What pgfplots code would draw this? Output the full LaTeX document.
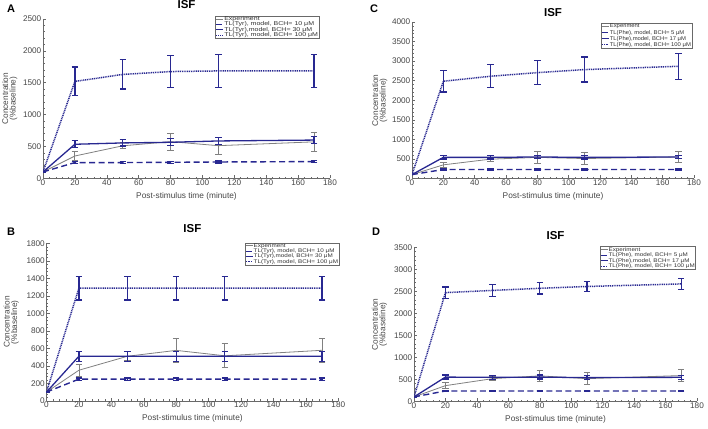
\documentclass[border=0pt]{standalone}
\usepackage{fontspec}
\setmainfont{Liberation Sans}
\usepackage{graphicx}
\usepackage{pgfplots}
\pgfplotsset{compat=1.18}

\definecolor{navy}{RGB}{40,40,145}
\definecolor{expg}{RGB}{128,128,128}
\definecolor{axg}{RGB}{105,105,105}
\definecolor{txg}{RGB}{70,70,70}

\newcommand\ls[2]{\scalebox{#1}[1]{#2}}

\pgfplotsset{
  isf/.style={
    scale only axis, anchor=south west,
    xmin=0, xmax=180, ymin=0, xtick={0,20,...,180},
    axis x line*=bottom, axis y line*=left,
    axis line style={axg, line width=0.5pt, -},
    tick align=inside, major tick length=3pt, minor tick length=1.5pt,
    minor x tick num=4, minor y tick num=4,
    every tick/.style={axg, line width=0.5pt},
    tick label style={font=\fontsize{8.2}{9}\selectfont, text=txg},
    /pgf/number format/assume math mode=true,
    /pgf/number format/1000 sep={},
    xticklabel style={inner sep=1pt},
    yticklabel style={inner sep=1.5pt},
    xlabel={Post-stimulus time (minute)},
    ylabel={Concentration\\(\%baseline)},
    label style={font=\fontsize{8.3}{7.5}\selectfont, text=txg},
    xlabel style={at={(axis description cs:0.5,0)}, anchor=north, yshift=-13.5pt, inner sep=0pt},
    ylabel style={align=center, anchor=south, inner sep=0pt},
    title={ISF},
    title style={font=\bfseries\fontsize{11.5}{12}\selectfont, at={(axis description cs:0.5,1)}, anchor=south, inner sep=0pt},
    legend cell align=left,
    legend image code/.code={\draw[#1, line width=0.8pt] (0pt,0pt) -- (7pt,0pt);},
    legend style={draw=axg, line width=0.4pt, fill=white, inner sep=0.4pt, row sep=0pt,
      anchor=north east, nodes={inner xsep=0.5pt, inner ysep=0pt, text=black!80}},
  },
  ebar/.style={error bars/y dir=both, error bars/y explicit,
    error bars/error bar style={#1, solid},
    error bars/error mark options={rotate=90, mark size=3.2pt, #1, solid}},
  pexp/.style={expg, line width=0.8pt, mark=none, ebar={expg, line width=0.8pt}},
  plo/.style={navy, line width=1.4pt, mark=none, dash pattern=on 6pt off 3.5pt, ebar={navy, line width=1.3pt}},
  pmid/.style={navy, line width=1.3pt, mark=none, ebar={navy, line width=1.3pt}},
  phi/.style={navy, line width=1.5pt, mark=none, dash pattern=on 1pt off 0.8pt, ebar={navy, line width=1.3pt}},
}

\begin{document}
\begin{tikzpicture}
\path[use as bounding box] (0pt,0pt) rectangle (708pt,428pt);

% ---------- A ----------
\begin{axis}[isf, at={(43pt,249.7pt)}, width=287pt, height=159.3pt,
  ymax=2500, ytick={0,500,...,2500},
  ylabel style={at={(axis description cs:-0.089,0.5)}},
  title style={yshift=4pt},
  legend style={at={(0.962,1.019)}, font=\fontsize{5.6}{6}\selectfont,
    nodes={text height=4pt, text depth=1.3pt}}]
\addplot[pexp] table[x=t, y=v, y error=e] {
t v e
0 100 0
20 350 70
50 510 48
80 575 135
110 512 132
170 572 145
};
\addlegendentry{\ls{1.25}{Experiment}}
\addplot[plo] table[x=t, y=v, y error=e] {
t v e
0 100 0
20 247 15
50 247 15
80 251 15
110 256 15
170 262 15
};
\addlegendentry{\ls{1.25}{TL(Tyr), model, BCH= 10 μM}}
\addplot[pmid] table[x=t, y=v, y error=e] {
t v e
0 100 0
20 534 55
50 555 50
80 565 55
110 586 55
170 600 58
};
\addlegendentry{\ls{1.25}{TL(Tyr),model, BCH= 30 μM}}
\addplot[phi] table[x=t, y=v, y error=e] {
t v e
0 100 0
20 1520 225
50 1630 230
80 1675 252
110 1685 255
170 1685 255
};
\addlegendentry{\ls{1.25}{TL(Tyr), model, BCH= 100 μM}}
\end{axis}

% ---------- C ----------
\begin{axis}[isf, at={(412pt,249.5pt)}, width=282pt, height=156.5pt,
  ymax=4000, ytick={0,500,...,4000},
  ylabel style={at={(axis description cs:-0.087,0.5)}},
  title style={yshift=-1pt},
  legend style={at={(0.993,0.994)}, font=\fontsize{5.5}{6}\selectfont,
    nodes={text height=4.4pt, text depth=1.7pt}}]
\addplot[pexp] table[x=t, y=v, y error=e] {
t v e
0 100 0
20 349 68
50 494 45
80 540 158
110 510 145
170 550 150
};
\addlegendentry{\ls{1.07}{Experiment}}
\addplot[plo] table[x=t, y=v, y error=e] {
t v e
0 100 0
20 230 10
50 230 10
80 230 10
110 230 10
170 230 10
};
\addlegendentry{\ls{1.07}{TL(Phe), model, BCH= 5 μM}}
\addplot[pmid] table[x=t, y=v, y error=e] {
t v e
0 100 0
20 540 42
50 540 42
80 550 45
110 540 42
170 550 45
};
\addlegendentry{\ls{1.07}{TL(Phe),model, BCH= 17 μM}}
\addplot[phi] table[x=t, y=v, y error=e] {
t v e
0 100 0
20 2485 275
50 2613 295
80 2706 305
110 2783 320
170 2868 330
};
\addlegendentry{\ls{1.07}{TL(Phe), model, BCH= 100 μM}}
\end{axis}

% ---------- B ----------
\begin{axis}[isf, at={(46.5pt,27.2pt)}, width=291.8pt, height=157.3pt,
  ymax=1800, ytick={0,200,...,1800},
  ylabel style={at={(axis description cs:-0.094,0.5)}},
  title style={yshift=4.5pt},
  legend style={at={(1.003,1.006)}, font=\fontsize{5.3}{6}\selectfont,
    nodes={text height=4pt, text depth=1.3pt}}]
\addplot[pexp] table[x=t, y=v, y error=e] {
t v e
0 100 0
20 350 72
50 510 50
80 577 132
110 515 138
170 578 140
};
\addlegendentry{\ls{1.19}{Experiment}}
\addplot[plo] table[x=t, y=v, y error=e] {
t v e
0 100 0
20 248 14
50 248 14
80 248 14
110 248 14
170 248 14
};
\addlegendentry{\ls{1.19}{TL(Tyr), model, BCH= 10 μM}}
\addplot[pmid] table[x=t, y=v, y error=e] {
t v e
0 100 0
20 510 57
50 510 57
80 510 57
110 510 57
170 510 57
};
\addlegendentry{\ls{1.19}{TL(Tyr),model, BCH= 30 μM}}
\addplot[phi] table[x=t, y=v, y error=e] {
t v e
0 100 0
20 1290 135
50 1290 135
80 1290 135
110 1290 135
170 1290 135
};
\addlegendentry{\ls{1.19}{TL(Tyr), model, BCH= 100 μM}}
\end{axis}

% ---------- D ----------
\begin{axis}[isf, at={(414pt,26.7pt)}, width=283pt, height=154pt,
  ymax=3500, ytick={0,500,...,3500},
  ylabel style={at={(axis description cs:-0.094,0.5)}},
  title style={yshift=1.6pt},
  legend style={at={(0.996,1.006)}, font=\fontsize{5.3}{6}\selectfont,
    nodes={text height=4.1pt, text depth=1.4pt}}]
\addplot[pexp] table[x=t, y=v, y error=e] {
t v e
0 100 0
20 356 65
50 515 40
80 578 135
110 515 137
170 585 140
};
\addlegendentry{\ls{1.18}{Experiment}}
\addplot[plo] table[x=t, y=v, y error=e] {
t v e
0 100 0
20 235 10
50 235 10
80 235 10
110 235 10
170 235 10
};
\addlegendentry{\ls{1.18}{TL(Phe), model, BCH= 5 μM}}
\addplot[pmid] table[x=t, y=v, y error=e] {
t v e
0 100 0
20 550 45
50 545 45
80 550 45
110 538 45
170 545 45
};
\addlegendentry{\ls{1.18}{TL(Phe),model, BCH= 17 μM}}
\addplot[phi] table[x=t, y=v, y error=e] {
t v e
0 100 0
20 2470 130
50 2520 132
80 2568 130
110 2610 120
170 2668 125
};
\addlegendentry{\ls{1.18}{TL(Phe), model, BCH= 100 μM}}
\end{axis}

\node[font=\bfseries\fontsize{11}{12}\selectfont] at (11pt,419pt) {A};
\node[font=\bfseries\fontsize{11}{12}\selectfont] at (374pt,419pt) {C};
\node[font=\bfseries\fontsize{11}{12}\selectfont] at (11pt,196.5pt) {B};
\node[font=\bfseries\fontsize{11}{12}\selectfont] at (376pt,196.5pt) {D};
\end{tikzpicture}
\end{document}
